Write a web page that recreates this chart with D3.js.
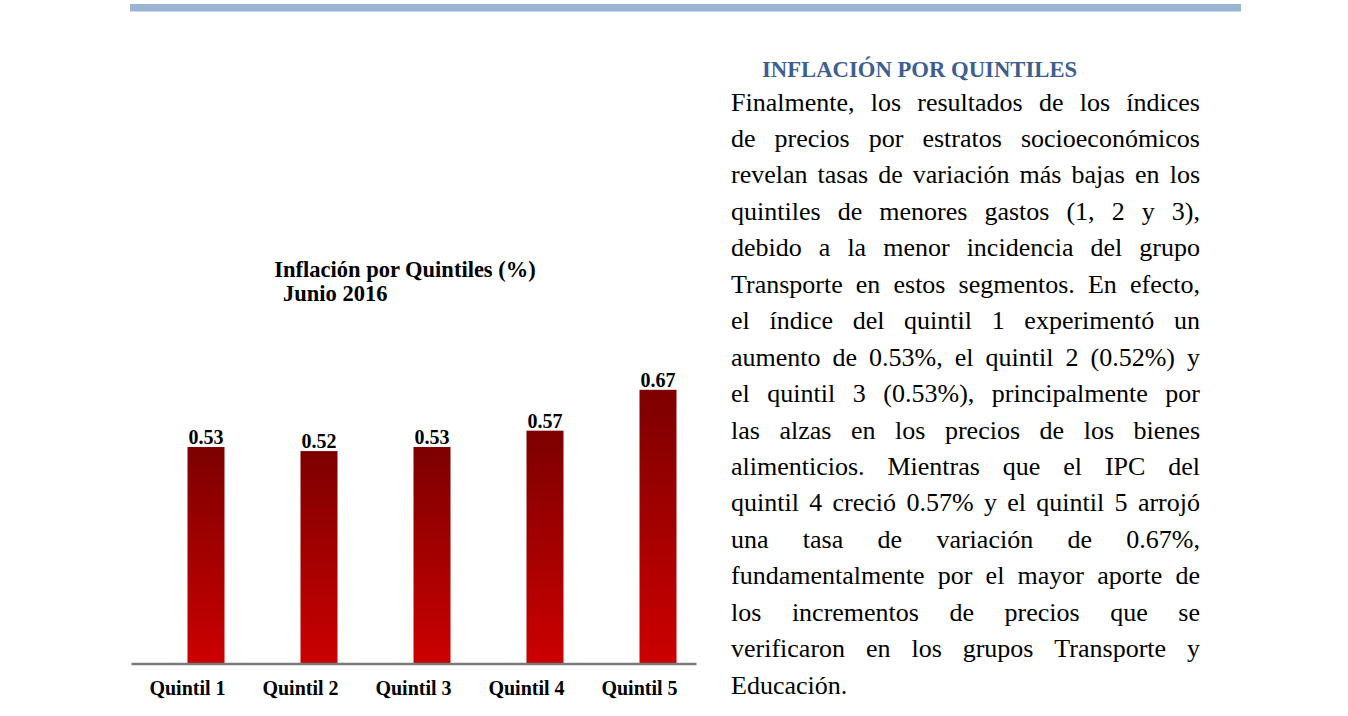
<!DOCTYPE html>
<html>
<head>
<meta charset="utf-8">
<script src="https://cdn.jsdelivr.net/npm/d3@7/dist/d3.min.js"></script>
<style>
  html, body { margin: 0; padding: 0; background: #ffffff; }
  svg { display: block; }
  svg text { font-family: "Liberation Serif", "Times New Roman", "DejaVu Serif", serif; }
</style>
</head>
<body>
<svg id="chart" width="1348" height="716"></svg>
<script>
// ---- data ----
const categories = ["Quintil 1", "Quintil 2", "Quintil 3", "Quintil 4", "Quintil 5"];
const values = [0.53, 0.52, 0.53, 0.57, 0.67];
const valueLabels = ["0.53", "0.52", "0.53", "0.57", "0.67"];
const chartTitle = ["Inflación por Quintiles (%)", "Junio 2016"];
const sectionTitle = "INFLACIÓN POR QUINTILES";
const bodyLines = [
  "Finalmente, los resultados de los índices",
  "de precios por estratos socioeconómicos",
  "revelan tasas de variación más bajas en los",
  "quintiles de menores gastos (1, 2 y 3),",
  "debido a la menor incidencia del grupo",
  "Transporte en estos segmentos. En efecto,",
  "el índice del quintil 1 experimentó un",
  "aumento de 0.53%, el quintil 2 (0.52%) y",
  "el quintil 3 (0.53%), principalmente por",
  "las alzas en los precios de los bienes",
  "alimenticios. Mientras que el IPC del",
  "quintil 4 creció 0.57% y el quintil 5 arrojó",
  "una tasa de variación de 0.67%,",
  "fundamentalmente por el mayor aporte de",
  "los incrementos de precios que se",
  "verificaron en los grupos Transporte y",
  "Educación."
];

const svg = d3.select("#chart");
const serif = "\"Liberation Serif\", \"Times New Roman\", \"DejaVu Serif\", serif";

// top band
svg.append("rect").attr("x", 130).attr("y", 4).attr("width", 1111).attr("height", 7.5)
  .attr("fill", "#9ab4d6");

// gradient
const defs = svg.append("defs");
const grad = defs.append("linearGradient").attr("id", "barGrad")
  .attr("x1", 0).attr("y1", 0).attr("x2", 0).attr("y2", 1);
grad.append("stop").attr("offset", "0%").attr("stop-color", "#7d0000");
grad.append("stop").attr("offset", "100%").attr("stop-color", "#cc0000");

// scales
const x = d3.scaleBand().domain(categories).range([131, 696]).paddingInner(0).paddingOuter(0);
const y = d3.scaleLinear().domain([0, 0.8]).range([663.5, 663.5 - 0.8 * 408.5]);
const barW = 37;

const data = categories.map((c, i) => ({ c, v: values[i], label: valueLabels[i] }));

// bars (offset right of category centre, as in the original)
svg.append("g").selectAll("rect").data(data).join("rect")
  .attr("x", d => x(d.c) + x.bandwidth() / 2)
  .attr("y", d => y(d.v))
  .attr("width", barW)
  .attr("height", d => y(0) - y(d.v))
  .attr("fill", "url(#barGrad)");

// value labels
svg.append("g").selectAll("text").data(data).join("text")
  .attr("x", d => x(d.c) + x.bandwidth() / 2 + barW / 2)
  .attr("y", d => y(d.v) - 3)
  .attr("text-anchor", "middle")
  .style("font-family", serif).style("font-weight", "bold").style("font-size", "20px")
  .attr("fill", "#000")
  .text(d => d.label);

// x axis
const xAxis = d3.axisBottom(x).tickSize(0).tickPadding(0);
const gx = svg.append("g").attr("transform", `translate(0,${y(0)})`).call(xAxis);
gx.select(".domain").attr("stroke", "#7a7a7a").attr("stroke-width", 2.5);
gx.selectAll(".tick text")
  .attr("y", 31)
  .attr("dy", 0)
  .style("font-family", serif).style("font-weight", "bold").style("font-size", "20px")
  .attr("fill", "#000");

// chart title
svg.append("text").attr("x", 405).attr("y", 277).attr("text-anchor", "middle")
  .style("font-family", serif).style("font-weight", "bold").style("font-size", "22.5px")
  .text(chartTitle[0]);
svg.append("text").attr("x", 283).attr("y", 301)
  .style("font-family", serif).style("font-weight", "bold").style("font-size", "22.5px")
  .text(chartTitle[1]);

// section title
svg.append("text").attr("x", 762).attr("y", 77)
  .style("font-family", serif).style("font-weight", "bold").style("font-size", "22.7px")
  .attr("fill", "#3d5f8f")
  .text(sectionTitle);

// justified body text
const left = 731, right = 1200, base0 = 110.5, lh = 36.45, fs = 26;
const measure = svg.append("text")
  .style("font-family", serif).style("font-size", fs + "px").style("font-weight", "normal")
  .attr("visibility", "hidden");
function w(s) { measure.text(s); return measure.node().getComputedTextLength(); }

const body = svg.append("g");
bodyLines.forEach((line, i) => {
  const yy = base0 + i * lh;
  const words = line.split(" ");
  const t = body.append("text").attr("y", yy)
    .style("font-family", serif).style("font-size", fs + "px").style("font-weight", "normal")
    .attr("fill", "#000");
  if (i === bodyLines.length - 1 || words.length === 1) {
    t.attr("x", left).text(line);
    return;
  }
  const widths = words.map(w);
  const total = d3.sum(widths);
  const gap = (right - left - total) / (words.length - 1);
  let cx = left;
  words.forEach((wd, j) => {
    t.append("tspan").attr("x", cx).attr("y", yy).text(wd);
    cx += widths[j] + gap;
  });
});
measure.remove();
</script>
</body>
</html>
